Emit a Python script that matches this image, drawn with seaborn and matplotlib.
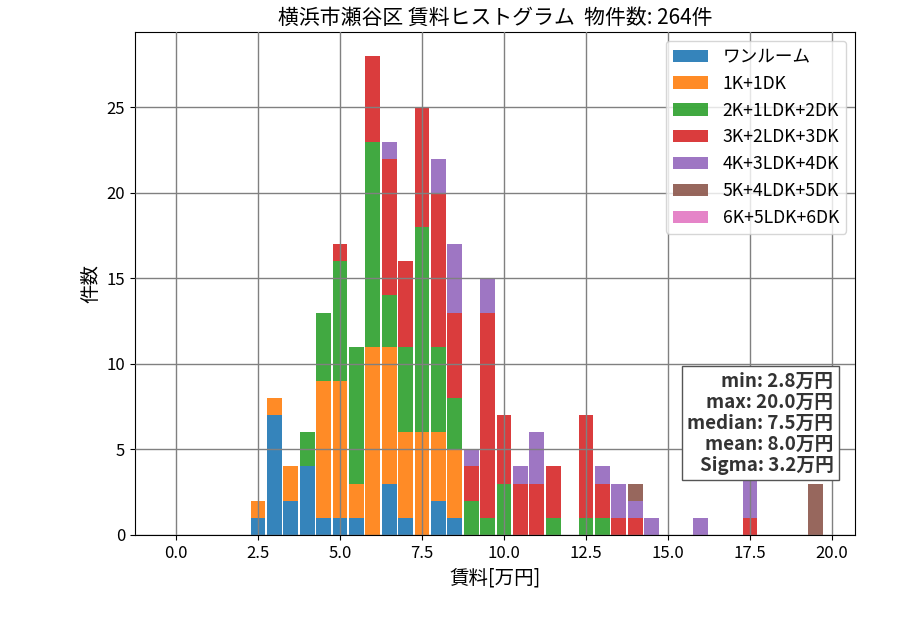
import pandas as pd
import seaborn as sns
import matplotlib.pyplot as plt

plt.rcParams['font.family'] = ['Noto Sans CJK JP', 'DejaVu Sans']

# 0.5万円刻みのビン（左端）
bins_left = [2.5, 3.0, 3.5, 4.0, 4.5, 5.0, 5.5, 6.0, 6.5, 7.0, 7.5, 8.0, 8.5,
             9.0, 9.5, 10.0, 10.5, 11.0, 11.5, 12.0, 12.5, 13.0, 13.5, 14.0,
             14.5, 15.0, 15.5, 16.0, 16.5, 17.0, 17.5, 18.0, 18.5, 19.0, 19.5]

madori = ["ワンルーム", "1K+1DK", "2K+1LDK+2DK", "3K+2LDK+3DK",
          "4K+3LDK+4DK", "5K+4LDK+5DK", "6K+5LDK+6DK"]

one_room = [1, 7, 2, 4, 1, 1, 1, 0, 3, 1, 0, 2, 1, 0, 0, 0, 0, 0, 0, 0, 0, 0, 0, 0, 0, 0, 0, 0, 0, 0, 0, 0, 0, 0, 0]
k1 = [1, 1, 2, 0, 8, 8, 2, 11, 8, 5, 6, 4, 4, 0, 0, 0, 0, 0, 0, 0, 0, 0, 0, 0, 0, 0, 0, 0, 0, 0, 0, 0, 0, 0, 0]
k2 = [0, 0, 0, 2, 4, 7, 8, 12, 3, 5, 12, 5, 3, 2, 1, 3, 0, 0, 1, 0, 1, 1, 0, 0, 0, 0, 0, 0, 0, 0, 0, 0, 0, 0, 0]
k3 = [0, 0, 0, 0, 0, 1, 0, 5, 8, 5, 7, 9, 5, 2, 12, 4, 3, 3, 3, 0, 6, 2, 1, 1, 0, 0, 0, 0, 0, 0, 1, 0, 0, 0, 0]
k4 = [0, 0, 0, 0, 0, 0, 0, 0, 1, 0, 0, 2, 4, 1, 2, 0, 1, 3, 0, 0, 0, 1, 2, 1, 1, 0, 0, 1, 0, 0, 8, 0, 0, 0, 0]
k5 = [0, 0, 0, 0, 0, 0, 0, 0, 0, 0, 0, 0, 0, 0, 0, 0, 0, 0, 0, 0, 0, 0, 0, 1, 0, 0, 0, 0, 0, 0, 0, 0, 0, 0, 3]
k6 = [0] * len(bins_left)

stats_text = "min: 2.8万円\nmax: 20.0万円\nmedian: 7.5万円\nmean: 8.0万円\nSigma: 3.2万円"
total = 264

rows = []
for name, counts in zip(madori, [one_room, k1, k2, k3, k4, k5, k6]):
    for x, c in zip(bins_left, counts):
        rows.append({"賃料": x, "間取り": name, "件数": c})
df = pd.DataFrame(rows)

edges = [b - 0.25 for b in bins_left] + [bins_left[-1] + 0.25]
colors = dict(zip(madori, sns.color_palette("tab10", len(madori))))

fig, ax = plt.subplots(figsize=(9, 6.3), dpi=100)
fig.subplots_adjust(left=0.15, right=0.95, top=0.949, bottom=0.151)

# seabornは先頭のhueを一番上に積むので逆順で渡す
sns.histplot(data=df, x="賃料", weights="件数", hue="間取り", hue_order=madori[::-1],
             multiple="stack", bins=edges, shrink=0.9, alpha=0.9, linewidth=0,
             palette=colors, ax=ax)

ax.set_xlim(-1.25, 20.7)
ax.set_ylim(0, 29.4)
ax.set_xticks([0, 2.5, 5, 7.5, 10, 12.5, 15, 17.5, 20])
ax.tick_params(labelsize=12)
ax.grid(True, color="gray", linewidth=1)
ax.set_axisbelow(False)
ax.set_xlabel("賃料[万円]", fontsize=14)
ax.set_ylabel("件数", fontsize=14)
ax.set_title(f"横浜市瀬谷区 賃料ヒストグラム  物件数: {total}件", fontsize=15)

old = ax.get_legend()
handles = old.legend_handles[::-1]
labels = [t.get_text() for t in old.get_texts()][::-1]
old.remove()
ax.legend(handles, labels, loc="upper right", fontsize=12.7)

ax.text(0.97, 0.12, stats_text, transform=ax.transAxes, ha="right", va="bottom",
        fontsize=13.5, fontweight="bold", color="#333333", linespacing=1.13,
        bbox=dict(facecolor="white", edgecolor="#555555", pad=4), zorder=10)

plt.savefig("out.png")
plt.close()
